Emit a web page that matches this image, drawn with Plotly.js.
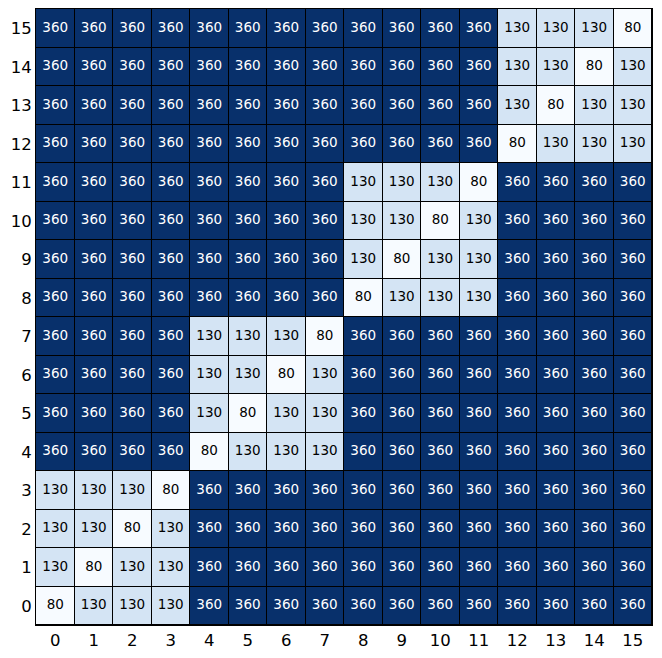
<!DOCTYPE html>
<html>
<head>
<meta charset="utf-8">
<script src="https://cdn.plot.ly/plotly-3.0.1.min.js"></script>
<style>html,body{margin:0;padding:0;background:#fff;}</style>
</head>
<body>
<div id="chart" style="width:662px;height:658px;"></div>
<script>
const xLabels = [0,1,2,3,4,5,6,7,8,9,10,11,12,13,14,15];
const yLabels = [0,1,2,3,4,5,6,7,8,9,10,11,12,13,14,15];
// rows from y=0 (bottom) to y=15 (top)
const row0  = [80,130,130,130,360,360,360,360,360,360,360,360,360,360,360,360];
const row1  = [130,80,130,130,360,360,360,360,360,360,360,360,360,360,360,360];
const row2  = [130,130,80,130,360,360,360,360,360,360,360,360,360,360,360,360];
const row3  = [130,130,130,80,360,360,360,360,360,360,360,360,360,360,360,360];
const row4  = [360,360,360,360,80,130,130,130,360,360,360,360,360,360,360,360];
const row5  = [360,360,360,360,130,80,130,130,360,360,360,360,360,360,360,360];
const row6  = [360,360,360,360,130,130,80,130,360,360,360,360,360,360,360,360];
const row7  = [360,360,360,360,130,130,130,80,360,360,360,360,360,360,360,360];
const row8  = [360,360,360,360,360,360,360,360,80,130,130,130,360,360,360,360];
const row9  = [360,360,360,360,360,360,360,360,130,80,130,130,360,360,360,360];
const row10 = [360,360,360,360,360,360,360,360,130,130,80,130,360,360,360,360];
const row11 = [360,360,360,360,360,360,360,360,130,130,130,80,360,360,360,360];
const row12 = [360,360,360,360,360,360,360,360,360,360,360,360,80,130,130,130];
const row13 = [360,360,360,360,360,360,360,360,360,360,360,360,130,80,130,130];
const row14 = [360,360,360,360,360,360,360,360,360,360,360,360,130,130,80,130];
const row15 = [360,360,360,360,360,360,360,360,360,360,360,360,130,130,130,80];
const zValues = [row0,row1,row2,row3,row4,row5,row6,row7,row8,row9,row10,row11,row12,row13,row14,row15];

const blues = [
  [0.0,'#f7fbff'],[0.125,'#deebf7'],[0.25,'#c6dbef'],[0.375,'#9ecae1'],
  [0.5,'#6baed6'],[0.625,'#4292c6'],[0.75,'#2171b5'],[0.875,'#08519c'],[1.0,'#08306b']
];

const heat = {
  type: 'heatmap',
  x: xLabels,
  y: yLabels,
  z: zValues,
  zmin: 80,
  zmax: 360,
  colorscale: blues,
  showscale: false,
  xgap: 1,
  ygap: 1,
  hoverinfo: 'skip'
};

// cell labels from the same data
const tx = [], ty = [], tt = [], tc = [];
zValues.forEach((row, j) => row.forEach((v, i) => {
  tx.push(xLabels[i]); ty.push(yLabels[j]); tt.push(String(v));
  tc.push(v > 220 ? '#ffffff' : '#000000');
}));
const labels = {
  type: 'scatter', mode: 'text', x: tx, y: ty, text: tt,
  textposition: 'middle center',
  textfont: {family: 'DejaVu Sans', size: 13.5, color: tc},
  hoverinfo: 'skip', showlegend: false
};

const layout = {
  width: 662,
  height: 658,
  margin: {l: 36, r: 10, t: 9, b: 33},
  paper_bgcolor: '#ffffff',
  plot_bgcolor: '#000000',
  font: {family: 'DejaVu Sans', color: '#000'},
  showlegend: false,
  xaxis: {
    range: [-0.5, 15.5], tickvals: xLabels, ticktext: xLabels.map(String),
    showgrid: false, zeroline: false, ticks: '', tickfont: {size: 16.5, color: '#000'},
    showline: true, mirror: true, linecolor: '#000', linewidth: 1
  },
  yaxis: {
    range: [-0.5, 15.5], tickvals: yLabels, ticktext: yLabels.map(String),
    showgrid: false, zeroline: false, ticks: '', tickfont: {size: 16.5, color: '#000'},
    showline: true, mirror: true, linecolor: '#000', linewidth: 1
  }
};

Plotly.newPlot('chart', [heat, labels], layout, {displayModeBar: false, staticPlot: true});
</script>
</body>
</html>
